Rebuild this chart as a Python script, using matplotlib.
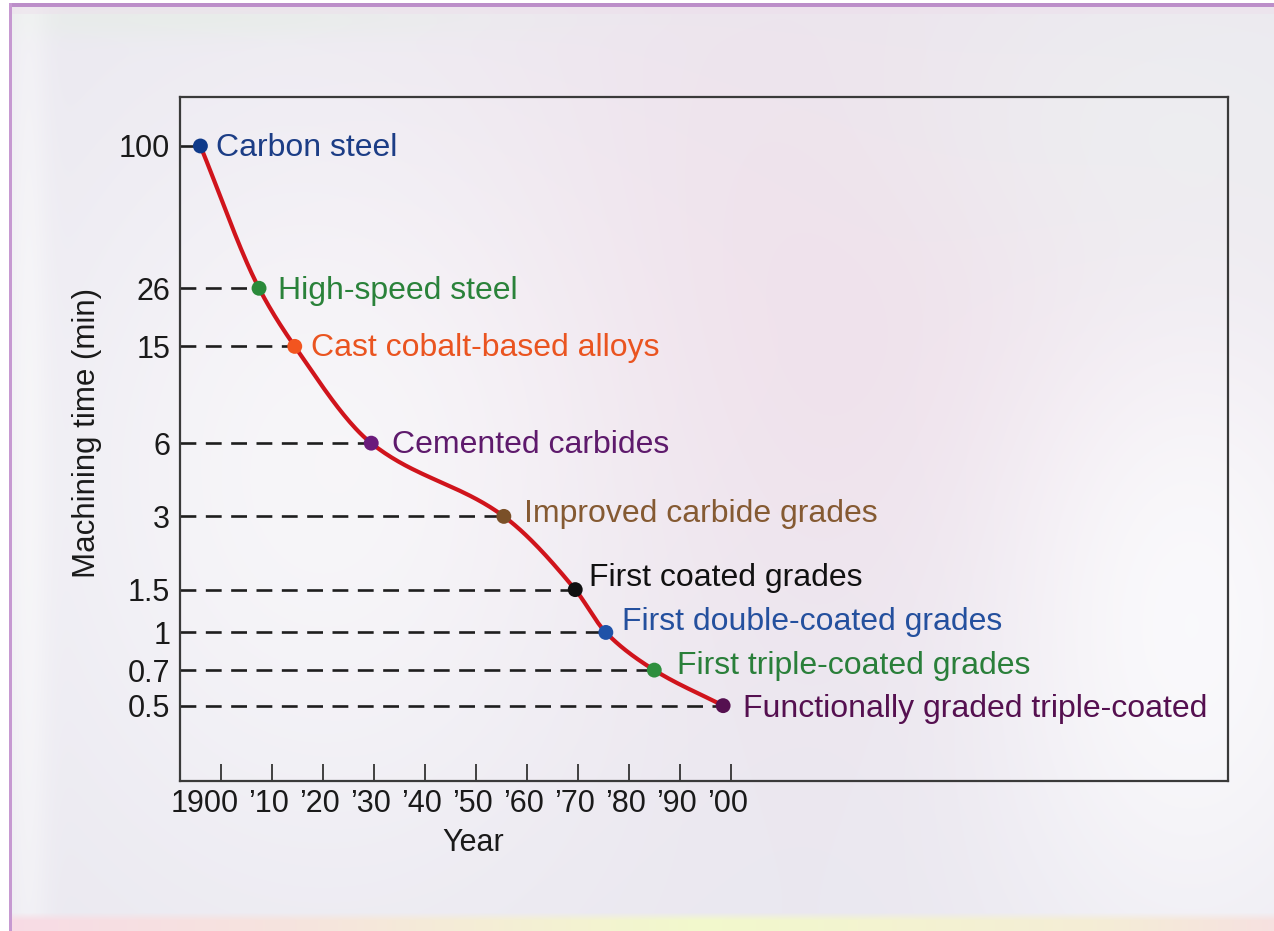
import numpy as np
import matplotlib
matplotlib.use("Agg")
import matplotlib.pyplot as plt
from matplotlib.transforms import ScaledTranslation

plt.rcParams['font.family'] = ['Liberation Sans', 'DejaVu Sans']

# tool materials, year introduced and machining time
materials = ["Carbon steel", "High-speed steel", "Cast cobalt-based alloys",
             "Cemented carbides", "Improved carbide grades", "First coated grades",
             "First double-coated grades", "First triple-coated grades",
             "Functionally graded triple-coated"]
years = [1896, 1907.5, 1914.5, 1929.5, 1955.5, 1969.5, 1975.5, 1985, 1998.5]
times = [100, 26, 15, 6, 3, 1.5, 1, 0.7, 0.5]

year_ticks = [1900, 1910, 1920, 1930, 1940, 1950, 1960, 1970, 1980, 1990, 2000]
year_labels = ["1900", "\u201910", "\u201920", "\u201930", "\u201940", "\u201950",
               "\u201960", "\u201970", "\u201980", "\u201990", "\u201900"]
time_ticks = [100, 26, 15, 6, 3, 1.5, 1, 0.7, 0.5]
time_labels = ["100", "26", "15", "6", "3", "1.5", "1", "0.7", "0.5"]

dot_colors = ["#0f3a8a", "#2a8a3a", "#f2551f", "#6b1b7c", "#7a5028",
              "#111111", "#1f52a8", "#2e8f3e", "#551050"]
text_colors = ["#1c3d86", "#2a823a", "#ea5420", "#5e1a6c", "#855a32",
               "#111111", "#24509e", "#2a7f3a", "#551050"]
# label offsets from the dot, in pixels
label_dx = [16, 19, 16, 21, 20, 14, 16, 23, 20]
label_dy = [-2, -3, -2, -2, 2, 12, 10, 4, -3]


def smooth_line(x, y, n=40):
    # monotone cubic hermite through the points (Fritsch-Carlson slopes)
    x = np.asarray(x, float)
    y = np.asarray(y, float)
    h = np.diff(x)
    d = np.diff(y) / h
    m = np.zeros_like(x)
    m[0], m[-1] = d[0], d[-1]
    for k in range(1, len(x) - 1):
        if d[k - 1] * d[k] > 0:
            w1 = 2 * h[k] + h[k - 1]
            w2 = h[k] + 2 * h[k - 1]
            m[k] = (w1 + w2) / (w1 / d[k - 1] + w2 / d[k])
    xs, ys = [], []
    for k in range(len(x) - 1):
        t = np.linspace(0, 1, n)
        h00 = 2 * t**3 - 3 * t**2 + 1
        h10 = t**3 - 2 * t**2 + t
        h01 = -2 * t**3 + 3 * t**2
        h11 = t**3 - t**2
        xs.append(x[k] + t * h[k])
        ys.append(h00 * y[k] + h10 * h[k] * m[k] + h01 * y[k + 1] + h11 * h[k] * m[k + 1])
    return np.concatenate(xs), np.concatenate(ys)


W, H = 1274, 931
fig = plt.figure(figsize=(W / 100, H / 100), dpi=100)

# soft slide background
yy, xx = np.mgrid[0:H, 0:W]
bg = np.ones((H, W, 3)) * np.array([0.915, 0.908, 0.94])


def blend(img, color, cx, cy, sx, sy, a):
    w = a * np.exp(-(((xx - cx) / sx) ** 2 + ((yy - cy) / sy) ** 2) / 2)[..., None]
    return img * (1 - w) + np.array(color) * w


bg = blend(bg, (0.94, 0.87, 0.915), 820, 300, 320, 260, 0.85)
bg = blend(bg, (0.985, 0.985, 0.99), 330, 470, 230, 300, 0.75)
bg = blend(bg, (0.99, 0.99, 0.995), 1190, 620, 150, 260, 0.85)
bg = blend(bg, (0.93, 0.945, 0.945), 1150, 120, 200, 120, 0.6)
bg = blend(bg, (0.9, 0.93, 0.9), 180, 18, 220, 14, 0.6)
bg = blend(bg, (0.985, 0.985, 0.985), 28, 480, 14, 500, 0.6)
strip = np.interp(np.arange(W), [0, 300, 700, 1100, 1274], [0, 0.3, 1, 0.6, 0.2])
pink = np.array([0.97, 0.86, 0.9])
yellow = np.array([0.95, 0.975, 0.8])
bottom = pink * (1 - strip[:, None]) + yellow * strip[:, None]
for r in range(912, H):
    a = min(1.0, (r - 912) / 8)
    bg[r] = bg[r] * (1 - a) + bottom * a
bg[6:14, 12:] = bg[6:14, 12:] * 0.6 + np.array([0.93, 0.86, 0.92]) * 0.4
bg[3:7, 9:] = [0.74, 0.56, 0.79]
bg[3:, 9:12] = [0.78, 0.6, 0.82]
bg[:3, :] = 1.0
bg[:, :9] = 1.0

bgax = fig.add_axes([0, 0, 1, 1], zorder=-1)
bgax.imshow(bg, aspect='auto', interpolation='bilinear')
bgax.axis('off')

ax = fig.add_axes([180 / W, 1 - 781 / H, 1048 / W, 684 / H])
ax.set_facecolor('none')
ax.set_yscale('log')
ax.set_xlim(1892, 2097.5)
ax.set_ylim(0.245, 159)

for s in ax.spines.values():
    s.set_color('#3a3a3a')
    s.set_linewidth(1.6)

ax.set_xticks(year_ticks)
ax.set_xticklabels(year_labels)
ax.set_yticks(time_ticks)
ax.set_yticklabels(time_labels)
ax.yaxis.set_minor_locator(matplotlib.ticker.NullLocator())
ax.tick_params(axis='x', direction='in', length=12, width=1.3, color='#333333',
               labelsize=22, pad=6, labelcolor='#1a1a1a')
ax.tick_params(axis='y', length=0, labelsize=22, pad=7, labelcolor='#1a1a1a')

# nudge the year labels a little to the left, "1900" more so
for i, lab in enumerate(ax.get_xticklabels()):
    shift = -16 if i == 0 else -3
    lab.set_transform(lab.get_transform() + ScaledTranslation(shift / 100, 0, fig.dpi_scale_trans))

# dashed guides from the axis to each point
ax.hlines(times, 1892, years, colors='#1e1e1e', linewidth=1.9,
          linestyles=(0, (6, 3.6)), zorder=1)

lx, ly = smooth_line(years, np.log10(times))
ax.plot(lx, 10 ** ly, color='#d0141c', linewidth=3.0, zorder=2,
        solid_capstyle='round')
ax.scatter(years, times, s=115, c=dot_colors, edgecolors='none', zorder=3)

for name, yr, t, c, dx, dy in zip(materials, years, times, text_colors, label_dx, label_dy):
    ax.annotate(name, (yr, t), xytext=(dx, dy), textcoords='offset pixels',
                ha='left', va='center', fontsize=23, color=c)

fig.text(87 / W, 1 - 433 / H, "Machining time (min)", rotation=90,
         ha='center', va='center', fontsize=22.5, color='#1a1a1a')
fig.text(473 / W, 1 - 843 / H, "Year", ha='center', va='center',
         fontsize=22, color='#1a1a1a')

fig.savefig("out.png", dpi=100)
